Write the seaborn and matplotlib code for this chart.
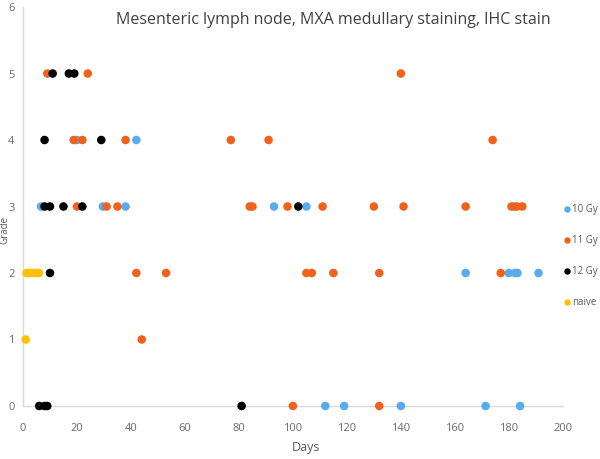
import pandas as pd
import numpy as np
import matplotlib
matplotlib.use("Agg")
import matplotlib.pyplot as plt
import seaborn as sns

# ---------------------------------------------------------
# data (days, grade) per group
# ---------------------------------------------------------
days_10gy = [6.7, 20, 29.6, 38, 42, 93, 105, 182, 164, 180, 182.3, 183.2, 191,
             112, 119, 140, 171.4, 184.2]
grade_10gy = [3, 4, 3, 3, 4, 3, 3, 3, 2, 2, 2, 2, 2,
              0, 0, 0, 0, 0]

days_11gy = [9, 24, 140,
             18.8, 22, 38, 77, 91, 174,
             20, 31, 35, 84, 85, 98, 111, 130, 141, 164, 181, 183, 185,
             42, 53, 105, 107, 115, 132, 177,
             44,
             100, 132]
grade_11gy = [5, 5, 5,
              4, 4, 4, 4, 4, 4,
              3, 3, 3, 3, 3, 3, 3, 3, 3, 3, 3, 3, 3,
              2, 2, 2, 2, 2, 2, 2,
              1,
              0, 0]

days_12gy = [11, 17, 19, 8, 29, 8, 10, 15, 22, 102, 10, 6, 8, 9, 81]
grade_12gy = [5, 5, 5, 4, 4, 3, 3, 3, 3, 3, 2, 0, 0, 0, 0]

days_naive = [1.3, 2.2, 3.1, 4.0, 5.0, 5.9, 1]
grade_naive = [2, 2, 2, 2, 2, 2, 1]

groups = ["10 Gy", "11 Gy", "12 Gy", "naive"]
colors = ["#58ACEE", "#F0621C", "#000000", "#FFC000"]

df = pd.concat([
    pd.DataFrame({"Days": days_10gy, "Grade": grade_10gy, "group": "10 Gy"}),
    pd.DataFrame({"Days": days_11gy, "Grade": grade_11gy, "group": "11 Gy"}),
    pd.DataFrame({"Days": days_12gy, "Grade": grade_12gy, "group": "12 Gy"}),
    pd.DataFrame({"Days": days_naive, "Grade": grade_naive, "group": "naive"}),
], ignore_index=True)

sns.set_style("white")
plt.rcParams["font.family"] = ["Open Sans", "DejaVu Sans"]

fig = plt.figure(figsize=(6, 4.59), dpi=100)
ax = fig.add_axes([0.0383, 0.1155, 0.8997, 0.8692])

sns.scatterplot(
    data=df, x="Days", y="Grade", hue="group", hue_order=groups,
    palette=colors, s=38, linewidth=0, ax=ax, clip_on=False, zorder=3
)

ax.set_xlim(0, 200)
ax.set_ylim(0, 6)
ax.set_xticks(np.arange(0, 201, 20))
ax.set_yticks(np.arange(0, 7, 1))

grey = "#D9D9D9"
for side in ["top", "right"]:
    ax.spines[side].set_visible(False)
for side in ["left", "bottom"]:
    ax.spines[side].set_color(grey)
    ax.spines[side].set_linewidth(1.0)
ax.tick_params(axis="both", colors=grey, labelcolor="#6b6b6b", labelsize=8,
               length=4, width=1)
ax.tick_params(axis="x", pad=8)
ax.tick_params(axis="y", pad=2)

ax.set_xlabel("Days", fontsize=9, color="#595959")
ax.xaxis.set_label_coords(0.525, -0.088)
# the label sits partly under the "3" in the reference; nudge it down a bit
ax.set_ylabel("Grade", fontsize=7, color="#595959")
ax.yaxis.set_label_coords(-0.024, 0.442)

fig.text(0.555, 0.957, "Mesenteric lymph node, MXA medullary staining, IHC stain",
         ha="center", va="center", fontsize=11.5, color="#404040")

leg = fig.legend(*ax.get_legend_handles_labels(), loc="upper left",
                 bbox_to_anchor=(0.940, 0.555), frameon=False,
                 fontsize=7, handlelength=0.6, handletextpad=0.25,
                 labelspacing=2.05, borderaxespad=0, borderpad=0,
                 markerscale=0.75)
ax.get_legend().remove()
for t in leg.get_texts():
    t.set_color("#595959")

fig.savefig("out.png", dpi=100)
